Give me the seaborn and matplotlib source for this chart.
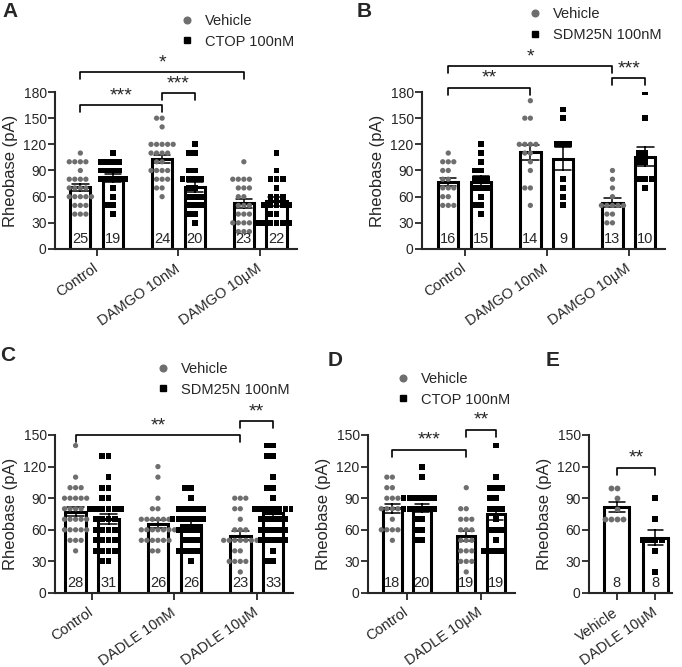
import pandas as pd
import seaborn as sns
import matplotlib.pyplot as plt
from matplotlib.lines import Line2D
import matplotlib.transforms as mtransforms

sns.set_style("ticks")
plt.rcParams["font.family"] = ["Liberation Sans", "DejaVu Sans"]

# ---- data: rheobase (pA) per cell ----
A_groups = ["Control", "DAMGO 10nM", "DAMGO 10μM"]
A_vehicle = [
    [110, 100, 100, 100, 100, 90, 80, 80, 80, 80, 70, 70, 70, 70, 60, 60, 60, 60, 60, 50, 50, 50, 40, 40, 40],
    [150, 150, 140, 120, 120, 120, 120, 120, 110, 110, 110, 110, 100, 100, 90, 90, 90, 90, 80, 80, 80, 70, 70, 60],
    [100, 80, 80, 80, 80, 70, 70, 70, 60, 60, 50, 50, 50, 40, 40, 40, 30, 30, 30, 30, 20, 20, 20],
]
A_ctop = [
    [110, 100, 100, 100, 100, 90, 90, 90, 90, 80, 80, 80, 80, 80, 70, 60, 50, 50, 40],
    [120, 110, 110, 90, 90, 80, 80, 80, 80, 70, 70, 60, 60, 60, 50, 50, 50, 40, 40, 30],
    [110, 90, 80, 80, 80, 70, 60, 60, 60, 50, 50, 50, 50, 50, 40, 40, 30, 30, 30, 30, 30, 30],
]

B_groups = ["Control", "DAMGO 10nM", "DAMGO 10μM"]
B_vehicle = [
    [110, 100, 100, 100, 90, 90, 80, 80, 70, 70, 70, 60, 60, 50, 50, 50],
    [170, 150, 150, 120, 120, 120, 120, 110, 110, 100, 90, 70, 70, 50],
    [90, 80, 70, 60, 50, 50, 50, 50, 50, 40, 40, 30, 30],
]
B_sdm = [
    [120, 110, 100, 90, 90, 80, 80, 80, 70, 70, 70, 60, 50, 50, 40],
    [160, 150, 120, 120, 120, 80, 70, 60, 50],
    [180, 150, 110, 110, 100, 100, 80, 80, 80, 70],
]

C_groups = ["Control", "DADLE 10nM", "DADLE 10μM"]
C_vehicle = [
    [140, 110, 100, 100, 100, 90, 90, 90, 90, 90, 80, 80, 80, 80, 70, 70, 70, 70, 70,
     60, 60, 60, 60, 60, 50, 50, 50, 40],
    [120, 110, 90, 80, 80, 70, 70, 70, 70, 70, 70, 60, 60, 60, 60, 60, 60, 60,
     50, 50, 50, 50, 50, 50, 40, 40],
    [90, 90, 90, 80, 80, 70, 60, 60, 60, 50, 50, 50, 50, 50, 50, 50, 40, 40, 30, 30, 30, 30, 20],
]
C_sdm = [
    [130, 130, 110, 100, 100, 90, 90, 80, 80, 80, 80, 80, 80, 70, 70, 70, 70,
     60, 60, 60, 60, 50, 50, 50, 50, 40, 40, 40, 40, 30, 30],
    [100, 100, 90, 80, 80, 80, 80, 80, 70, 70, 70, 70, 70, 70, 60, 60, 60, 60,
     50, 50, 50, 40, 40, 40, 40, 30],
    [140, 140, 130, 130, 110, 100, 100, 90, 80, 80, 80, 80, 80, 80, 80, 70, 70, 70, 70, 70,
     60, 60, 60, 60, 60, 50, 50, 50, 50, 50, 40, 30, 30],
]

D_groups = ["Control", "DADLE 10μM"]
D_vehicle = [
    [110, 110, 100, 100, 90, 90, 90, 80, 80, 80, 80, 80, 70, 60, 60, 60, 60, 50],
    [100, 80, 80, 70, 70, 70, 60, 60, 60, 50, 50, 50, 40, 40, 40, 30, 30, 30, 20],
]
D_ctop = [
    [120, 110, 90, 90, 90, 90, 90, 90, 80, 80, 80, 80, 80, 80, 70, 70, 60, 60, 50, 50],
    [140, 110, 100, 100, 100, 90, 90, 80, 80, 80, 70, 60, 60, 60, 50, 40, 40, 40, 40],
]

E_groups = ["Vehicle", "DADLE 10μM"]
E_values = [
    [100, 100, 90, 80, 70, 70, 70, 70],
    [90, 70, 50, 50, 50, 50, 40, 20],
]

GREY = "#6e6e6e"
W, H = 682, 667
fig = plt.figure(figsize=(W / 100, H / 100), dpi=100)


def rect(l, t, r, b):
    return [l / W, 1 - b / H, (r - l) / W, (b - t) / H]


def style_axes(ax, ymax, xlim):
    ax.set_ylim(0, ymax)
    ax.set_xlim(*xlim)
    ax.set_yticks(range(0, ymax + 1, 30))
    sns.despine(ax=ax)
    for s in ["left", "bottom"]:
        ax.spines[s].set_linewidth(1.5)
    ax.tick_params(direction="out", length=5, width=1.3, labelsize=10.5)
    ax.tick_params(axis="y", pad=1, labelsize=10)
    ax.tick_params(axis="x", pad=8)
    ax.set_xlabel("")
    ax.set_ylabel("Rheobase (pA)", fontsize=12, labelpad=4)
    plt.setp(ax.get_xticklabels(), rotation=35, ha="right", va="center", rotation_mode="anchor")


def bracket(ax, x1, x2, y, ymax, label):
    d = 0.045 * ymax
    ax.plot([x1, x1, x2, x2], [y - d, y, y, y - d], color="black", lw=1.2, clip_on=False)
    ax.text((x1 + x2) / 2, y + 0.005 * ymax, label, ha="center", va="bottom", fontsize=14)


def panel(ax, groups, veh_vals, drug_vals, drug, ymax, xlim, brackets, legend_at):
    rows = []
    for g, vv, dv in zip(groups, veh_vals, drug_vals):
        rows += [(g, "Vehicle", v) for v in vv]
        rows += [(g, drug, v) for v in dv]
    df = pd.DataFrame(rows, columns=["group", "cond", "val"])
    hue_order = ["Vehicle", drug]
    sns.barplot(data=df, x="group", y="val", hue="cond", order=groups, hue_order=hue_order,
                palette={"Vehicle": "white", drug: "white"}, saturation=1,
                edgecolor="black", linewidth=2.2, errorbar="se", capsize=0.4,
                err_kws={"color": "black", "linewidth": 1.1},
                width=0.8, gap=0.38, legend=False, ax=ax)
    for cond, mk, sz in [("Vehicle", "o", 3.8), (drug, "s", 4.2)]:
        sns.swarmplot(data=df[df.cond == cond], x="group", y="val", hue="cond", order=groups,
                      hue_order=hue_order, dodge=True, palette={"Vehicle": GREY, drug: "black"},
                      marker=mk, size=sz, linewidth=0, legend=False, ax=ax)
    trans = mtransforms.blended_transform_factory(ax.transData, ax.transAxes)
    for i, (vv, dv) in enumerate(zip(veh_vals, drug_vals)):
        for off, vals in [(-0.2, vv), (0.2, dv)]:
            ax.text(i + off, 0.065, str(len(vals)), transform=trans, ha="center", va="center",
                    fontsize=10.5)
    for g1, h1, g2, h2, y, label in brackets:
        bracket(ax, g1 + (h1 - 0.5) * 0.4, g2 + (h2 - 0.5) * 0.4, y, ymax, label)
    handles = [Line2D([], [], marker="o", ls="", color=GREY, markersize=4.8),
               Line2D([], [], marker="s", ls="", color="black", markersize=5)]
    ax.legend(handles, hue_order, loc="upper left", bbox_to_anchor=legend_at, frameon=False,
              fontsize=10.5, handlelength=1, handletextpad=0.73, labelspacing=0.45,
              borderpad=0, borderaxespad=0)
    style_axes(ax, ymax, xlim)


axA = fig.add_axes(rect(55, 92, 297, 249))
panel(axA, A_groups, A_vehicle, A_ctop, "CTOP 100nM", 180, (-0.51, 2.45),
      [(0, 0, 1, 0, 165, "***"), (1, 0, 1, 1, 179, "***"), (0, 0, 2, 0, 203, "*")],
      (0.516, 1.497))

axB = fig.add_axes(rect(422, 92, 665, 249))
panel(axB, B_groups, B_vehicle, B_sdm, "SDM25N 100nM", 180, (-0.52, 2.44),
      [(0, 0, 1, 0, 185, "**"), (0, 0, 2, 0, 210, "*"), (2, 0, 2, 1, 196, "***")],
      (0.436, 1.541))

axC = fig.add_axes(rect(55, 435, 293, 593))
panel(axC, C_groups, C_vehicle, C_sdm, "SDM25N 100nM", 150, (-0.45, 2.44),
      [(0, 0, 2, 0, 150, "**"), (2, 0, 2, 1, 163, "**")],
      (0.424, 1.462))

axD = fig.add_axes(rect(368, 435, 515, 593))
panel(axD, D_groups, D_vehicle, D_ctop, "CTOP 100nM", 150, (-0.53, 1.46),
      [(0, 0, 1, 0, 136, "***"), (1, 0, 1, 1, 155, "**")],
      (0.19, 1.399))

# panel E: two bars, no hue
axE = fig.add_axes(rect(589, 435, 672, 593))
dfE = pd.DataFrame([(g, v) for g, vals in zip(E_groups, E_values) for v in vals],
                   columns=["cond", "val"])
sns.barplot(data=dfE, x="cond", y="val", order=E_groups, color="white", saturation=1,
            edgecolor="black", linewidth=2.2, errorbar="se", capsize=0.4,
            err_kws={"color": "black", "linewidth": 1.1}, width=0.64, ax=axE)
for g, mk, col, sz in [(E_groups[0], "o", GREY, 4.2), (E_groups[1], "s", "black", 4.4)]:
    sns.swarmplot(data=dfE[dfE.cond == g], x="cond", y="val", order=E_groups, color=col,
                  marker=mk, size=sz, linewidth=0, ax=axE)
transE = mtransforms.blended_transform_factory(axE.transData, axE.transAxes)
for i, vals in enumerate(E_values):
    axE.text(i, 0.065, str(len(vals)), transform=transE, ha="center", va="center", fontsize=10.5)
bracket(axE, 0, 1, 119, 150, "**")
style_axes(axE, 150, (-0.72, 1.43))

for letter, x, y in [("A", 2, 2), ("B", 357, 2), ("C", 0, 346), ("D", 328, 351), ("E", 546, 351)]:
    fig.text(x / W, 1 - y / H, letter, fontsize=15, fontweight="bold", va="top", ha="left")

fig.savefig("out.png", dpi=100)
